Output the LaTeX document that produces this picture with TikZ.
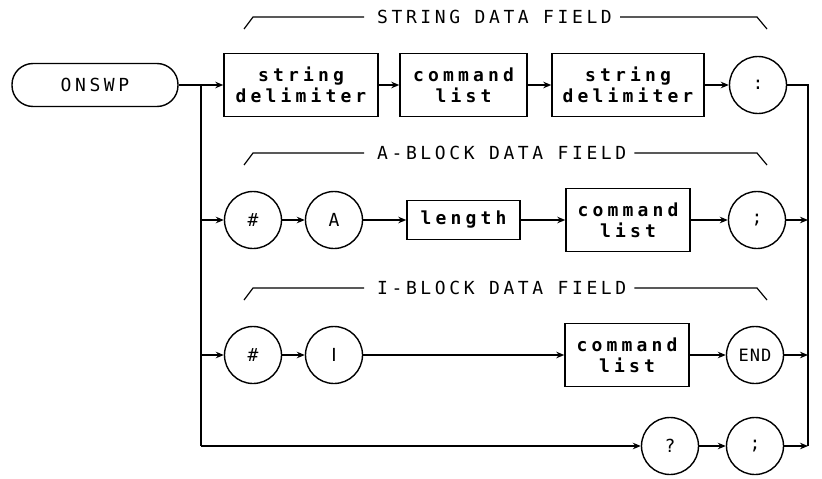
\documentclass[tikz,border=0pt]{standalone}
\usepackage{fontspec}
\newfontfamily\labfont[LetterSpace=20]{DejaVu Sans Mono}
\newfontfamily\boxfont[LetterSpace=23]{DejaVu Sans Mono}
\newfontfamily\barfont{DejaVu Sans}
\newfontfamily\endfont[LetterSpace=6]{DejaVu Sans Mono}
\usetikzlibrary{arrows.meta}
\tikzset{
  every node/.style={inner sep=0pt},
  conn/.style={line width=1.4pt},
  arr/.style={conn, -{Stealth[length=8pt,width=6.5pt]}},
  term/.style={draw, line width=1.4pt, circle, minimum size=57pt,
    font={\labfont\fontsize{18}{18}\selectfont}},
  nterm/.style={draw, line width=1.4pt, rectangle, minimum height=63pt, align=center,
    font={\boxfont\bfseries\fontsize{18}{21}\selectfont}},
  stadium/.style={draw, line width=1.4pt, rounded corners=21pt, minimum width=166pt,
    minimum height=43pt, font={\labfont\fontsize{18}{18}\selectfont}},
  fieldlabel/.style={anchor=west, font={\labfont\fontsize{18}{18}\selectfont}},
  brk/.style={line width=1.2pt},
}
\begin{document}
\begin{tikzpicture}[x=1pt,y=-1pt]
\useasboundingbox (0,0) rectangle (822,479);

% row 1
\node[stadium] (onswp) at (95,85) {ONSWP};
\node[nterm, minimum width=154pt] (sd1) at (301,85) {string\\delimiter};
\node[nterm, minimum width=127pt] (cl1) at (463.5,85) {command\\list};
\node[nterm, minimum width=152pt] (sd2) at (628,85) {string\\delimiter};
\node[term] (colon) at (758,85) {:};

% row 2
\node[term] (h1) at (253,220) {\#};
\node[term] (a) at (334,220) {A};
\node[nterm, minimum width=113pt, minimum height=39pt] (len) at (463.5,220) {length};
\node[nterm, minimum width=124pt] (cl2) at (628,220) {command\\list};
\node[term] (semi1) at (757,220) {;};

% row 3
\node[term] (h2) at (253,355) {\#};
\node[term, font={\barfont\fontsize{18}{18}\selectfont}] (ii) at (334,355) {I};
\node[nterm, minimum width=124pt] (cl3) at (627,355) {command\\list};
\node[term, font={\endfont\fontsize{17}{17}\selectfont}] (end) at (755,355) {END};

% row 4
\node[term] (q) at (670,446) {?};
\node[term] (semi2) at (755,446) {;};

% junctions
\coordinate (jL1) at (201,85);
\coordinate (jL2) at (201,220);
\coordinate (jL3) at (201,355);
\coordinate (jL4) at (201,446);
\coordinate (jR1) at (808,85);
\coordinate (jR2) at (808,220);
\coordinate (jR3) at (808,355);
\coordinate (jR4) at (808,446);

% connectors row 1
\draw[arr] (onswp) -- (sd1);
\draw[arr] (sd1) -- (cl1);
\draw[arr] (cl1) -- (sd2);
\draw[arr] (sd2) -- (colon);
\draw[conn] (colon) -- (jR1) -- (jR4);
\draw[conn] (jL1) -- (jL4);

% row 2
\draw[arr] (jL2) -- (h1);
\draw[arr] (h1) -- (a);
\draw[arr] (a) -- (len);
\draw[arr] (len) -- (cl2);
\draw[arr] (cl2) -- (semi1);
\draw[arr] (semi1) -- (jR2);

% row 3
\draw[arr] (jL3) -- (h2);
\draw[arr] (h2) -- (ii);
\draw[arr] (ii) -- (cl3);
\draw[arr] (cl3) -- (end);
\draw[arr] (end) -- (jR3);

% row 4
\draw[arr] (jL4) -- (q);
\draw[arr] (q) -- (semi2);
\draw[arr] (semi2) -- (jR4);

% field brackets
\node[fieldlabel] (f1) at (377,17) {STRING DATA FIELD};
\draw[brk] (244,29) -- (253,17) -- ([xshift=-13pt]f1.west);
\draw[brk] ([xshift=8pt]f1.east) -- (757,17) -- (767,29);

\node[fieldlabel] (f2) at (377,153) {A-BLOCK DATA FIELD};
\draw[brk] (244,165) -- (253,153) -- ([xshift=-13pt]f2.west);
\draw[brk] ([xshift=8pt]f2.east) -- (757,153) -- (767,165);

\node[fieldlabel] (f3) at (377,288) {I-BLOCK DATA FIELD};
\draw[brk] (244,300) -- (253,288) -- ([xshift=-13pt]f3.west);
\draw[brk] ([xshift=8pt]f3.east) -- (757,288) -- (767,300);
\end{tikzpicture}
\end{document}
